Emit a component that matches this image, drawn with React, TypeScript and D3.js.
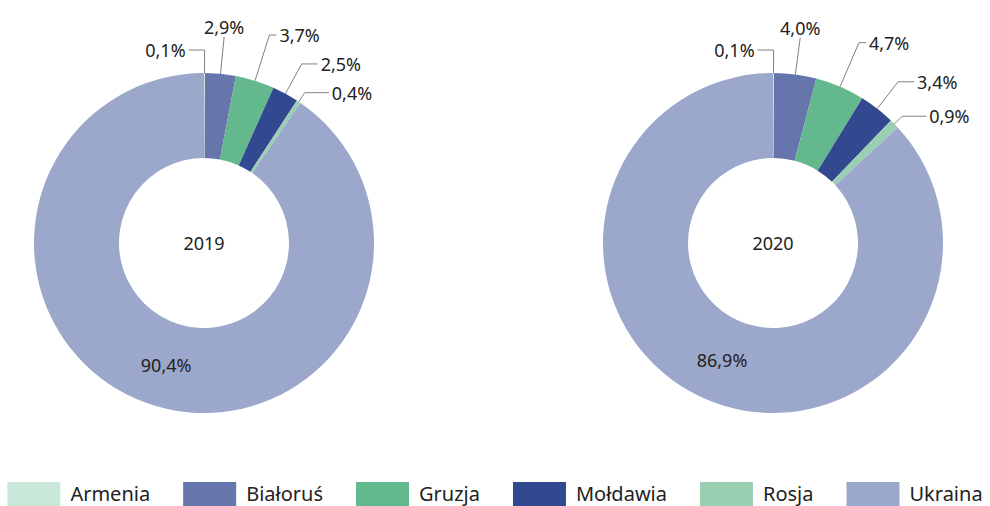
import React, { useLayoutEffect, useRef, useState } from 'react';
import { pie, arc } from 'd3';

const categories = ['Armenia', 'Białoruś', 'Gruzja', 'Mołdawia', 'Rosja', 'Ukraina'];
const colors = ['#c9e7d8', '#6676ad', '#64b88d', '#33498f', '#9bcfb3', '#9ba7cb'];
const years = ['2019', '2020'];
const values2019 = [0.1, 2.9, 3.7, 2.5, 0.4, 90.4];
const values2020 = [0.1, 4.0, 4.7, 3.4, 0.9, 86.9];

const width = 990;
const height = 506;
const outerR = 170;
const innerR = 85;
const centers = [204, 773];
const cy = 243;
const font = '"Noto Sans", "Open Sans", sans-serif';

// where each small slice's label goes: extra radius for the elbow, horizontal run
const labelLayout = [
  { dr: 23, h: -16, above: false },
  { dr: 37, h: 0, above: true },
  { dr: 48, h: 7, above: false },
  { dr: 34, h: 16, above: false },
  { dr: 11, h: 24, above: false },
];

const fmt = (v: number) => v.toFixed(1).replace('.', ',') + '%';

const Donut = ({ values, cx, year }: { values: number[]; cx: number; year: string }) => {
  const arcs = pie<number>().sort(null).value(d => d)(values);
  const arcGen = arc<any>().innerRadius(innerR).outerRadius(outerR);
  const pt = (a: number, r: number) => [Math.sin(a) * r, -Math.cos(a) * r];

  return (
    <g transform={`translate(${cx},${cy})`}>
      {arcs.map((a, i) => (
        <path key={i} d={arcGen(a) as string} fill={colors[i]} />
      ))}
      {arcs.map((a, i) => {
        const mid = (a.startAngle + a.endAngle) / 2;
        if (i === arcs.length - 1) {
          const [x, y] = arcGen.centroid(a);
          return (
            <text key={'l' + i} x={x} y={y} textAnchor="middle" dominantBaseline="central"
              fontSize={18} fill="#222">{fmt(a.data)}</text>
          );
        }
        const L = labelLayout[i];
        const [x0, y0] = pt(mid, outerR);
        const [x1, y1] = pt(mid, outerR + L.dr);
        if (L.above) {
          return (
            <g key={'l' + i}>
              <polyline points={`${x0},${y0} ${x1},${y1}`} fill="none" stroke="#808080" strokeWidth={1} />
              <text x={x1} y={y1 - 3} textAnchor="middle" fontSize={18} fill="#222">{fmt(a.data)}</text>
            </g>
          );
        }
        const x2 = x1 + L.h;
        const tx = L.h < 0 ? x2 - 3 : x2 + 3;
        return (
          <g key={'l' + i}>
            <polyline points={`${x0},${y0} ${x1},${y1} ${x2},${y1}`} fill="none" stroke="#808080" strokeWidth={1} />
            <text x={tx} y={y1} textAnchor={L.h < 0 ? 'end' : 'start'} dominantBaseline="central"
              fontSize={18} fill="#222">{fmt(a.data)}</text>
          </g>
        );
      })}
      <text x={0} y={0} textAnchor="middle" dominantBaseline="central" fontSize={18} fill="#222">{year}</text>
    </g>
  );
};

const Legend = () => {
  const refs = useRef<(SVGTextElement | null)[]>([]);
  const [widths, setWidths] = useState<number[]>(categories.map(c => c.length * 11));
  useLayoutEffect(() => {
    setWidths(refs.current.map(t => (t ? t.getComputedTextLength() : 0)));
  }, []);
  const sw = 53;
  const pad = 10;
  const gap = 33;
  const total = widths.reduce((s, w) => s + sw + pad + w, 0) + gap * (categories.length - 1);
  let x = (width - total) / 2;
  const xs = widths.map(w => {
    const cur = x;
    x += sw + pad + w + gap;
    return cur;
  });
  return (
    <g>
      {categories.map((c, i) => (
        <g key={c} transform={`translate(${xs[i]},482)`}>
          <rect x={0} y={0} width={sw} height={26} fill={colors[i]} />
          <text ref={el => { refs.current[i] = el; }} x={sw + pad} y={11} dominantBaseline="central"
            fontSize={20} fill="#222">{c}</text>
        </g>
      ))}
    </g>
  );
};

export default function App() {
  return (
    <svg width={width} height={height} style={{ position: 'absolute', left: 0, top: 0, background: '#fff' }}
      fontFamily={font}>
      <Donut values={values2019} cx={centers[0]} year={years[0]} />
      <Donut values={values2020} cx={centers[1]} year={years[1]} />
      <Legend />
    </svg>
  );
}
